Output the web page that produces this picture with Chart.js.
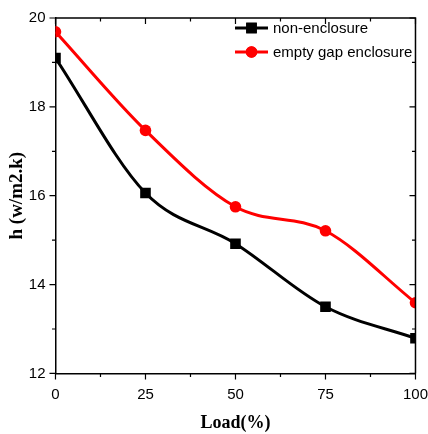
<!DOCTYPE html>
<html>
<head>
<meta charset="utf-8">
<script src="https://cdn.jsdelivr.net/npm/chart.js@4/dist/chart.umd.min.js"></script>
<style>
    html, body { margin: 0; padding: 0; background: #fff; }
    #wrap { width: 428px; height: 434px; }
</style>
</head>
<body>
<div id="wrap"><canvas id="chart_h"></canvas></div>
<script>
/** Data */
var loads = [0, 25, 50, 75, 100];
var nonEnclosure = [19.1, 16.06, 14.92, 13.5, 12.79];
var emptyGapEnclosure = [19.69, 17.47, 15.75, 15.21, 13.59];
var xTicks = [0, 25, 50, 75, 100];
var yTicks = [12, 14, 16, 18, 20];

function toPoints(xs, ys) {
    let pts = [];
    for (let i = 0; i < xs.length; i++) {
        pts.push({ x: xs[i], y: ys[i] });
    }
    return pts;
}

/** Frame with major/minor ticks (outside left/bottom, inside top/right) */
var framePlugin = {
    id: 'frame',
    afterDraw: function (chart) {
        let ctx = chart.ctx;
        let a = chart.chartArea;
        let xs = chart.scales.x;
        let ys = chart.scales.y;
        ctx.save();
        ctx.strokeStyle = '#000';
        ctx.lineWidth = 1.5;
        ctx.beginPath();
        ctx.moveTo(a.left, a.top);
        ctx.lineTo(a.right, a.top);
        ctx.lineTo(a.right, a.bottom);
        ctx.stroke();

        ctx.lineWidth = 1.2;
        ctx.beginPath();
        // x ticks
        for (let v = 0; v <= 100; v += 12.5) {
            let px = xs.getPixelForValue(v);
            let len = (v % 25 === 0) ? 6 : 3.5;
            ctx.moveTo(px, a.bottom);
            ctx.lineTo(px, a.bottom + len);
            ctx.moveTo(px, a.top);
            ctx.lineTo(px, a.top + len);
        }
        // y ticks
        for (let v = 12; v <= 20; v += 1) {
            let py = ys.getPixelForValue(v);
            let len = (v % 2 === 0) ? 6 : 3.5;
            ctx.moveTo(a.left, py);
            ctx.lineTo(a.left - len, py);
            ctx.moveTo(a.right, py);
            ctx.lineTo(a.right - len, py);
        }
        ctx.stroke();
        ctx.restore();
    }
};

/** Legend drawn inside plot, top right */
var legendPlugin = {
    id: 'insideLegend',
    afterDraw: function (chart) {
        let ctx = chart.ctx;
        let sets = chart.data.datasets;
        let x0 = 235, x1 = 268, tx = 273;
        let rows = [28, 52];
        ctx.save();
        for (let i = 0; i < sets.length; i++) {
            let ds = sets[i];
            let y = rows[i];
            ctx.strokeStyle = ds.borderColor;
            ctx.lineWidth = 3;
            ctx.beginPath();
            ctx.moveTo(x0, y);
            ctx.lineTo(x1, y);
            ctx.stroke();
            ctx.fillStyle = ds.pointBackgroundColor;
            Chart.helpers.drawPoint(ctx, {
                pointStyle: ds.pointStyle,
                radius: ds.pointRadius,
                rotation: 0,
                borderWidth: 0
            }, (x0 + x1) / 2, y);
            ctx.fill();
            ctx.fillStyle = '#000';
            ctx.font = '15px "Liberation Sans", Arial, sans-serif';
            ctx.textBaseline = 'middle';
            ctx.fillText(ds.label, tx, y + 1);
        }
        ctx.restore();
    }
};

var tickFont = { family: '"Liberation Sans", Arial, sans-serif', size: 15 };
var titleFont = { family: '"Liberation Serif", "Times New Roman", serif', weight: 'bold' };

var ctx = document.getElementById('chart_h').getContext('2d');
new Chart(ctx, {
    type: 'line',
    data: {
        datasets: [{
            label: 'non-enclosure',
            data: toPoints(loads, nonEnclosure),
            borderColor: '#000000',
            backgroundColor: '#000000',
            pointBackgroundColor: '#000000',
            pointBorderWidth: 0,
            pointStyle: 'rect',
            pointRadius: 7.5,
            borderWidth: 3,
            cubicInterpolationMode: 'monotone',
            clip: 0
        }, {
            label: 'empty gap enclosure',
            data: toPoints(loads, emptyGapEnclosure),
            borderColor: '#ff0000',
            backgroundColor: '#ff0000',
            pointBackgroundColor: '#ff0000',
            pointBorderWidth: 0,
            pointStyle: 'circle',
            pointRadius: 5.8,
            borderWidth: 3,
            cubicInterpolationMode: 'monotone',
            clip: 0
        }]
    },
    options: {
        responsive: true,
        maintainAspectRatio: false,
        animation: false,
        layout: { padding: { left: 6, right: 0, top: 18, bottom: 0 } },
        plugins: {
            legend: { display: false },
            tooltip: { enabled: false }
        },
        scales: {
            x: {
                type: 'linear',
                min: 0,
                max: 100,
                afterBuildTicks: function (scale) {
                    scale.ticks = xTicks.map(function (v) { return { value: v }; });
                },
                grid: { display: true, drawOnChartArea: false, tickLength: 12, tickColor: 'rgba(0,0,0,0)' },
                border: { display: true, color: '#000', width: 1.5 },
                ticks: {
                    color: '#000',
                    padding: 0,
                    maxRotation: 0,
                    font: tickFont
                },
                title: {
                    display: true,
                    text: 'Load(%)',
                    color: '#000',
                    padding: { top: 9, bottom: 0 },
                    font: Object.assign({ size: 18 }, titleFont)
                }
            },
            y: {
                type: 'linear',
                min: 12,
                max: 20,
                afterBuildTicks: function (scale) {
                    scale.ticks = yTicks.map(function (v) { return { value: v }; });
                },
                grid: { display: true, drawOnChartArea: false, tickLength: 10, tickColor: 'rgba(0,0,0,0)' },
                border: { display: true, color: '#000', width: 1.5 },
                ticks: {
                    color: '#000',
                    padding: 0,
                    font: tickFont
                },
                title: {
                    display: true,
                    text: 'h (w/m2.k)',
                    color: '#000',
                    padding: { top: 0, bottom: 0 },
                    font: Object.assign({ size: 19 }, titleFont)
                }
            }
        }
    },
    plugins: [framePlugin, legendPlugin]
});
</script>
</body>
</html>
